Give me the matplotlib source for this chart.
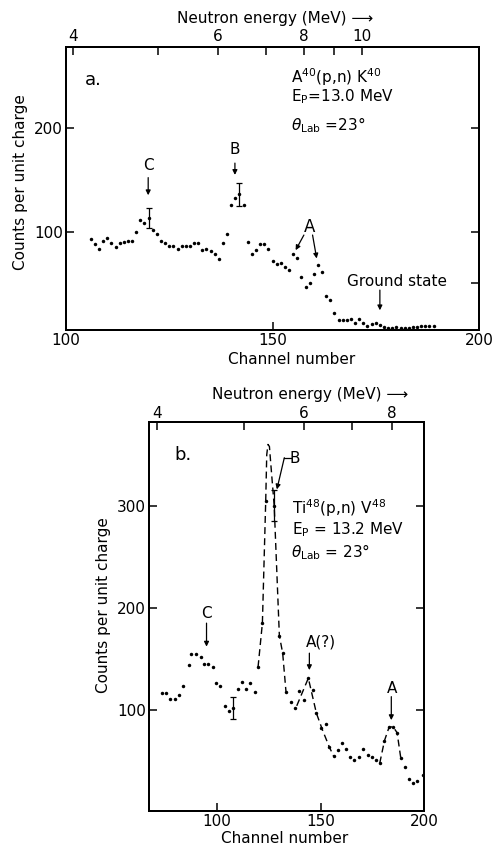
import matplotlib
matplotlib.use("Agg")
import matplotlib.pyplot as plt
import numpy as np

plt.rcParams['font.family'] = ['DejaVu Sans']
plt.rcParams['mathtext.fontset'] = 'dejavusans'

# ---------------- Panel a data: Ar40(p,n)K40 ----------------
chan_a = [106, 107, 108, 109, 110, 111, 112, 113, 114, 115, 116, 117, 118, 119,
          120, 121, 122, 123, 124, 125, 126, 127, 128, 129, 130, 131, 132, 133,
          134, 135, 136, 137, 138, 139, 140, 141, 142, 143, 144, 145, 146, 147,
          148, 149, 150, 151, 152, 153, 154, 155, 156, 157, 158, 159, 160, 161,
          162, 163, 164, 165, 166, 167, 168, 169, 170, 171, 172, 173, 174, 175,
          176, 177, 178, 179, 180, 181, 182, 183, 184, 185, 186, 187, 188, 189]
counts_a = [92.8, 87.9, 82.8, 91, 93.4, 89.2, 84.7, 89.2, 90, 91, 91, 99.5, 111, 108,
            113, 101.4, 98, 91, 88.6, 86.3, 86.3, 83.4, 86, 86, 86, 89.2, 89.2, 81.8,
            83.4, 81, 78, 73.4, 89.2, 97.3, 125.3, 132, 136, 125.6, 90, 78, 82, 88,
            88, 83.4, 71.5, 68.3, 69.9, 66, 62.8, 78, 74.4, 56.3, 46.7, 50, 59, 67.6,
            61.2, 37.7, 33.8, 21.5, 15, 14.8, 14.8, 16, 12, 15.5, 11.3, 9, 10.6, 12.2,
            10.3, 8, 6.5, 7.4, 8, 7.4, 7, 7.4, 8, 8, 8.7, 8.7, 8.7, 8.7]
err_ch_a = [120, 142]
err_val_a = [113, 136]
err_size_a = [10, 11]
energy_labels_a = ['4', '6', '8', '10']
energy_pos_a = [101.7, 136.8, 157.6, 171.6]
energy_minor_a = [122.3, 148.4, 164.9]

# ---------------- Panel b data: Ti48(p,n)V48 ----------------
chan_b = [73.4, 75.3, 77.3, 79.5, 81.4, 83.6, 86.2, 87.6, 89.8, 92.2, 93.8, 95.8,
          98.1, 99.7, 101.6, 103.6, 105.8, 107.9, 110, 112.1, 114.2, 116.1, 118.5,
          119.8, 121.9, 123.5, 127.6, 130.1, 131.7, 133.3, 135.8, 137.7, 139.5,
          141.8, 144.1, 146.2, 148, 150.4, 152.5, 154.3, 156.3, 158.3, 160.3, 162.3,
          164.3, 166.1, 168.4, 170.7, 172.7, 174.7, 176.7, 178.6, 180.9, 183.1, 185,
          187, 188.8, 190.8, 192.7, 194.6, 196.7, 199.5]
counts_b = [116.4, 116.4, 110.5, 110.5, 114.7, 123.5, 144.1, 154.9, 154.6, 152.3,
            144.8, 144.8, 141.9, 126.8, 123.8, 103.9, 99.3, 101.7, 120.3, 127.5,
            120.3, 126.8, 117.9, 141.9, 185, 304.2, 300, 172.8, 155.6, 117.9, 108.1,
            102.3, 118.6, 109.8, 131.1, 119.6, 96.8, 82.1, 86, 63.4, 54.9, 60.8, 67.6,
            61.5, 54.2, 51, 53.6, 61.5, 55.9, 53.6, 51, 47.7, 69.9, 83, 83.6, 77.7,
            52.6, 44.4, 32, 28.7, 30.7, 36.3]
err_ch_b = [107.9, 127.6]
err_val_b = [101.7, 300]
err_size_b = [10.5, 15]
# hand-drawn dashed guide curves
curveB_ch = [119.8, 121.9, 123.5, 124.0, 124.6, 125.3, 125.8, 127.6, 130.1, 131.7, 133.3]
curveB_val = [141.9, 185, 304.2, 350, 360, 358, 345, 300, 172.8, 155.6, 117.9]
curveAq_ch = [138.5, 144.1, 146.5, 148, 151, 154.3, 156.3]
curveAq_val = [104, 131.1, 110, 96.8, 80, 63.4, 54.9]
curveA_ch = [178.6, 180.9, 183.1, 185, 187, 188.8]
curveA_val = [47.7, 69.9, 83, 83.6, 77.7, 52.6]
energy_labels_b = ['4', '6', '8']
energy_pos_b = [71.1, 142, 184.6]
energy_minor_b = [112.8, 165]

W, H = 494, 846
fig = plt.figure(figsize=(W / 100, H / 100), dpi=100)

FS = 11


def frac(x0, y0, x1, y1):
    return [x0 / W, 1 - y1 / H, (x1 - x0) / W, (y1 - y0) / H]


def style(ax):
    for s in ax.spines.values():
        s.set_linewidth(1.4)
    ax.tick_params(direction='in', length=6, width=1.1, labelsize=FS, pad=2)


dash = (0, (5, 3))
arrow = dict(arrowstyle='-|>', lw=0.9, color='black', mutation_scale=7, shrinkA=0, shrinkB=0)

# ---------------- Panel a ----------------
ax = fig.add_axes(frac(66, 47, 479, 330))
style(ax)
ax.set_xlim(100, 200)
ax.set_ylim(5, 278)
ax.plot(chan_a, counts_a, 'o', color='black', ms=2.5, mew=0)
ax.errorbar(err_ch_a, err_val_a, yerr=err_size_a, fmt='none', ecolor='black',
            elinewidth=0.9, capsize=2, capthick=0.9)
ax.set_xticks([100, 150, 200])
ax.set_xticklabels(['100', '150', '200'])
ax.set_yticks([100, 200])
ax.set_yticklabels(['100', '200'])
axr = ax.secondary_yaxis('right')
axr.set_yticks([50, 100, 200])
axr.tick_params(direction='in', length=6, width=1.1, labelright=False)
axr.spines['right'].set_visible(False)
axt = ax.twiny()
axt.set_xlim(100, 200)
axt.set_xticks(energy_pos_a)
axt.set_xticklabels(energy_labels_a)
axt.set_xticks(energy_minor_a, minor=True)
axt.tick_params(direction='in', length=6, width=1.1, labelsize=FS, pad=2)
axt.tick_params(which='minor', direction='in', length=6, width=1.1)
for s in axt.spines.values():
    s.set_linewidth(1.4)

ax.text(104.6, 246, 'a.', fontsize=13, ha='left', va='center')
ax.text(154.6, 249, r'A$^{40}$(p,n) K$^{40}$', fontsize=FS, ha='left', va='center')
ax.text(154.6, 230, r'E$_{\rm P}$=13.0 MeV', fontsize=FS, ha='left', va='center')
ax.text(154.4, 203, r'$\theta_{\rm Lab}$ =23°', fontsize=FS, ha='left', va='center')
ax.text(119.9, 164, 'C', fontsize=FS, ha='center', va='center')
ax.annotate('', xy=(119.9, 135), xytext=(119.9, 152), arrowprops=arrow)
ax.text(140.9, 178.7, 'B', fontsize=FS, ha='center', va='center')
ax.annotate('', xy=(140.9, 154.6), xytext=(140.9, 166), arrowprops=arrow)
ax.text(158.9, 104, 'A', fontsize=12, ha='center', va='center')
ax.annotate('', xy=(155.6, 82), xytext=(157.6, 96.6), arrowprops=arrow)
ax.annotate('', xy=(160.7, 74), xytext=(159.7, 96.6), arrowprops=arrow)
ax.text(180.2, 51.5, 'Ground state', fontsize=FS, ha='center', va='center')
ax.annotate('', xy=(176, 24), xytext=(176, 43.5), arrowprops=arrow)

fig.text(20 / W, 1 - 182 / H, 'Counts per unit charge', rotation=90, fontsize=FS,
         ha='center', va='center')
fig.text(292 / W, 1 - 360 / H, 'Channel number', fontsize=FS, ha='center', va='center')
fig.text(275 / W, 1 - 19 / H, 'Neutron energy (MeV) ⟶', fontsize=FS, ha='center', va='center')

# ---------------- Panel b ----------------
bx = fig.add_axes(frac(149, 422, 424, 811))
style(bx)
bx.set_xlim(67.1, 200)
bx.set_ylim(1, 382)
bx.plot(curveB_ch, curveB_val, color='black', lw=1.0, linestyle=dash)
bx.plot(curveAq_ch, curveAq_val, color='black', lw=1.0, linestyle=dash)
bx.plot(curveA_ch, curveA_val, color='black', lw=1.0, linestyle=dash)
bx.plot(chan_b, counts_b, 'o', color='black', ms=2.5, mew=0)
bx.errorbar(err_ch_b, err_val_b, yerr=err_size_b, fmt='none', ecolor='black',
            elinewidth=0.9, capsize=2, capthick=0.9)
bx.set_xticks([100, 150, 200])
bx.set_xticklabels(['100', '150', '200'])
bx.set_yticks([100, 200, 300])
bx.set_yticklabels(['100', '200', '300'])
bxr = bx.secondary_yaxis('right')
bxr.set_yticks([100, 200, 300])
bxr.tick_params(direction='in', length=6, width=1.1, labelright=False)
bxr.spines['right'].set_visible(False)
bxt = bx.twiny()
bxt.set_xlim(67.1, 200)
bxt.set_xticks(energy_pos_b)
bxt.set_xticklabels(energy_labels_b)
bxt.set_xticks(energy_minor_b, minor=True)
bxt.tick_params(direction='in', length=6, width=1.1, labelsize=FS, pad=1)
bxt.tick_params(which='minor', direction='in', length=6, width=1.1)
for s in bxt.spines.values():
    s.set_linewidth(1.4)

bx.text(79.6, 350, 'b.', fontsize=13, ha='left', va='center')
bx.text(136, 297.7, r'Ti$^{48}$(p,n) V$^{48}$', fontsize=FS, ha='left', va='center')
bx.text(136, 276.5, r'E$_{\rm P}$ = 13.2 MeV', fontsize=FS, ha='left', va='center')
bx.text(135.8, 255, r'$\theta_{\rm Lab}$ = 23°', fontsize=FS, ha='left', va='center')
bx.text(137.5, 346, 'B', fontsize=FS, ha='center', va='center')
bx.plot([135.5, 132.5], [347, 347], color='black', lw=0.9)
bx.annotate('', xy=(128.9, 316), xytext=(132.5, 347), arrowprops=arrow)
bx.text(94.9, 194.8, 'C', fontsize=FS, ha='center', va='center')
bx.annotate('', xy=(94.9, 162), xytext=(94.9, 185), arrowprops=arrow)
bx.text(150.4, 167, 'A(?)', fontsize=FS, ha='center', va='center')
bx.annotate('', xy=(144.6, 139), xytext=(144.6, 155.6), arrowprops=arrow)
bx.text(184.5, 121.3, 'A', fontsize=FS, ha='center', va='center')
bx.annotate('', xy=(184.2, 90), xytext=(184.2, 113), arrowprops=arrow)

fig.text(103 / W, 1 - 605 / H, 'Counts per unit charge', rotation=90, fontsize=FS,
         ha='center', va='center')
fig.text(285 / W, 1 - 838 / H, 'Channel number', fontsize=FS, ha='center', va='center')
fig.text(310 / W, 1 - 394 / H, 'Neutron energy (MeV) ⟶', fontsize=FS, ha='center', va='center')

fig.savefig('out.png', dpi=100)
